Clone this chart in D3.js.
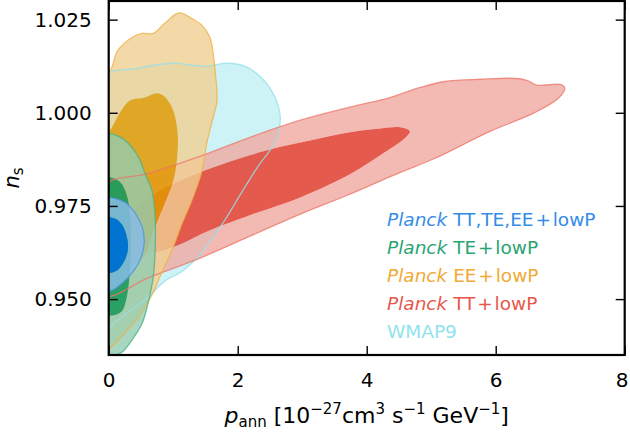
<!DOCTYPE html>
<html><head><meta charset="utf-8">
<script src="https://cdn.jsdelivr.net/npm/d3@7"></script>
<style>body{margin:0;background:#fff}svg{display:block}</style>
</head><body>
<svg id="c" width="630" height="436"></svg>
<script>
// ---- data (x: p_ann [1e-27 cm^3 s^-1 GeV^-1], y: n_s) ----
const xTicks = [0, 2, 4, 6, 8];
const yTicks = [0.950, 0.975, 1.000, 1.025];
const xDomain = [0, 8];
const yDomain = [0.935, 1.030];

const legendNames = ["TT,TE,EE+lowP", "TE+lowP", "EE+lowP", "TT+lowP", "WMAP9"];

// Planck TT+lowP
const ttOuter = [[-0.1,0.9800],[0.64,0.9838],[1.415,0.9883],[2.19,0.9934],[2.97,0.9980],[3.74,1.0015],[4.36,1.0041],[4.83,1.0068],[5.21,1.0084],[5.76,1.0090],[6.33,1.0092],[6.50,1.0086],[6.64,1.0074],[7.00,1.0076],[7.07,1.0066],[6.97,1.0039],[6.61,1.0001],[5.91,0.9950],[5.06,0.9878],[4.52,0.9840],[3.66,0.9776],[2.97,0.9728],[2.19,0.9669],[1.415,0.9610],[0.64,0.9559],[-0.1,0.9510]];
const ttInner = [[0.25,0.9707],[0.485,0.9752],[0.795,0.9792],[1.415,0.9840],[2.19,0.9886],[2.70,0.9910],[3.28,0.9932],[3.74,0.9948],[4.21,0.9958],[4.52,0.9961],[4.67,0.9950],[4.59,0.9932],[4.28,0.9894],[3.74,0.9835],[2.97,0.9773],[2.19,0.9725],[1.57,0.9685],[1.03,0.9642],[0.64,0.9626],[0.33,0.9658]];
// WMAP9
const wmapOuter = [[-0.135,1.0090],[0.45,1.0119],[0.98,1.0133],[1.49,1.0125],[1.85,1.0133],[2.11,1.0125],[2.38,1.0092],[2.58,1.0041],[2.66,0.9988],[2.62,0.9940],[2.50,0.9899],[2.35,0.9865],[2.08,0.9792],[1.83,0.9720],[1.62,0.9666],[1.38,0.9613],[1.14,0.9575],[0.87,0.9548],[0.61,0.9505],[0.41,0.9479],[0.14,0.9444],[-0.135,0.9406]];
// Planck EE+lowP
const eeOuter = [[-0.135,1.0103],[0.02,1.0114],[0.14,1.0167],[0.36,1.0202],[0.52,1.0213],[0.69,1.0213],[0.87,1.0240],[1.06,1.0267],[1.14,1.0267],[1.29,1.0253],[1.45,1.0234],[1.57,1.0202],[1.62,1.0159],[1.66,1.0095],[1.68,1.0033],[1.62,0.9988],[1.52,0.9918],[1.45,0.9846],[1.29,0.9765],[1.14,0.9704],[0.98,0.9631],[0.84,0.9578],[0.67,0.9511],[0.485,0.9457],[0.25,0.9409],[0.02,0.9369],[-0.135,0.9358]];
const eeInner = [[-0.135,0.9913],[0.05,0.9961],[0.175,1.0001],[0.33,1.0033],[0.56,1.0041],[0.72,1.0052],[0.84,1.0047],[0.98,1.0015],[1.06,0.9961],[1.07,0.9899],[1.01,0.9824],[0.90,0.9771],[0.76,0.9712],[0.64,0.9658],[0.56,0.9618],[0.25,0.9583],[-0.135,0.9578]];
// Planck TE+lowP
const teOuter = [[-0.135,0.9948],[0.02,0.9945],[0.21,0.9932],[0.36,0.9907],[0.485,0.9873],[0.56,0.9838],[0.67,0.9792],[0.72,0.9720],[0.72,0.9631],[0.69,0.9559],[0.61,0.9489],[0.52,0.9436],[0.36,0.9390],[0.21,0.9358],[0.05,0.9347],[-0.135,0.9342]];
const teInner = [[-0.135,0.9830],[0.02,0.9827],[0.175,0.9814],[0.28,0.9779],[0.33,0.9725],[0.345,0.9631],[0.31,0.9538],[0.28,0.9505],[0.22,0.9471],[0.14,0.9460],[0.02,0.9455],[-0.135,0.9455]];
// Planck TT,TE,EE+lowP
const allOuter = [[-0.135,0.9776],[0.02,0.9773],[0.25,0.9760],[0.41,0.9731],[0.52,0.9693],[0.55,0.9650],[0.485,0.9605],[0.36,0.9570],[0.21,0.9543],[0.05,0.9524],[-0.135,0.9519]];
const allInner = [[-0.135,0.9723],[0.02,0.9720],[0.14,0.9712],[0.25,0.9685],[0.30,0.9639],[0.25,0.9605],[0.14,0.9578],[0.02,0.9570],[-0.135,0.9567]];

// ---- layout ----
const svg = d3.select("#c");
const L = 108.7, R = 624.7, T = 1, B = 355;
const x = d3.scaleLinear().domain(xDomain).range([L, R]);
const y = d3.scaleLinear().domain(yDomain).range([B, T]);
const font = "'DejaVu Sans', sans-serif";

svg.append("defs").append("clipPath").attr("id", "clip")
  .append("rect").attr("x", L).attr("y", T).attr("width", R - L).attr("height", B - T);

const line = d3.line().x(d => x(d[0])).y(d => y(d[1])).curve(d3.curveCatmullRomClosed.alpha(0.5));

const series = [
  {key:"wmap", outer: wmapOuter, inner: null, fo:"#cdf3f6", ao:1, fi:null, ai:0, stroke:"#96e0ea", so:0.8, text:"#8fe3ee"},
  {key:"tt", outer: ttOuter, inner: ttInner, fo:"rgb(240,169,161)", ao:0.8, fi:"rgb(227,83,70)", ai:0.96, stroke:"#ec7468", so:0.75, text:"#e8574a"},
  {key:"ee", outer: eeOuter, inner: eeInner, fo:"rgb(240,208,146)", ao:0.8, fi:"rgb(227,152,0)", ai:0.85, stroke:"#efb043", so:0.75, text:"#f0aa35"},
  {key:"te", outer: teOuter, inner: teInner, fo:"rgb(145,205,178)", ao:0.8, fi:"rgb(25,155,95)", ai:0.92, stroke:"#4fb283", so:0.8, text:"#2aa473"},
  {key:"all", outer: allOuter, inner: allInner, fo:"rgb(135,188,230)", ao:0.85, fi:"rgb(0,115,215)", ai:0.96, stroke:"#4f95e0", so:0.8, text:"#348ce6"}
];

const plot = svg.append("g").attr("clip-path", "url(#clip)");
series.forEach(s => {
  plot.append("path")
    .attr("d", line(s.outer) + (s.inner ? line(s.inner) : ""))
    .attr("fill", s.fo).attr("fill-opacity", s.ao).attr("fill-rule", "evenodd");
  if (s.inner) {
    plot.append("path").attr("d", line(s.inner))
      .attr("fill", s.fi).attr("fill-opacity", s.ai);
  }
});
series.forEach(s => {
  plot.append("path").attr("d", line(s.outer))
    .attr("fill", "none").attr("stroke", s.stroke).attr("stroke-opacity", s.so).attr("stroke-width", 1.3);
});

// ---- axes ----
const fmtY = d3.format(".3f");
const axB = svg.append("g").attr("transform", `translate(0,${B})`)
  .call(d3.axisBottom(x).tickValues(xTicks).tickSize(-9).tickPadding(18).tickFormat(d3.format("d")));
const axL = svg.append("g").attr("transform", `translate(${L},0)`)
  .call(d3.axisLeft(y).tickValues(yTicks).tickSize(-9).tickPadding(17).tickFormat(fmtY));
const axT = svg.append("g").attr("transform", `translate(0,${T})`)
  .call(d3.axisTop(x).tickValues(xTicks).tickSize(-9).tickFormat(""));
const axR = svg.append("g").attr("transform", `translate(${R},0)`)
  .call(d3.axisRight(y).tickValues(yTicks).tickSize(-9).tickFormat(""));
[axB, axL, axT, axR].forEach(g => {
  g.select(".domain").remove();
  g.selectAll(".tick line").attr("stroke", "#000").attr("stroke-width", 1.4);
  g.selectAll(".tick text").attr("fill", "#000").style("font-family", font).style("font-size", "20px");
});
// keep the last x label inside the canvas
axB.selectAll(".tick text").filter(d => d === xDomain[1]).attr("dx", "-3");

svg.append("rect").attr("x", L).attr("y", T).attr("width", R - L).attr("height", B - T)
  .attr("fill", "none").attr("stroke", "#000").attr("stroke-width", 2.2);

// ---- axis labels ----
const xl = svg.append("text").attr("x", (L + R) / 2).attr("y", 423).attr("text-anchor", "middle")
  .style("font-family", font).style("font-size", "22px").attr("fill", "#000");
xl.append("tspan").attr("font-style", "italic").text("p");
xl.append("tspan").attr("dy", 4).style("font-size", "15px").text("ann");
xl.append("tspan").attr("dy", -4).text(" [10");
xl.append("tspan").attr("dy", -9).style("font-size", "15px").text("−27");
xl.append("tspan").attr("dy", 9).text("cm");
xl.append("tspan").attr("dy", -9).style("font-size", "15px").text("3");
xl.append("tspan").attr("dy", 9).text(" s");
xl.append("tspan").attr("dy", -9).style("font-size", "15px").text("−1");
xl.append("tspan").attr("dy", 9).text(" GeV");
xl.append("tspan").attr("dy", -9).style("font-size", "15px").text("−1");
xl.append("tspan").attr("dy", 9).text("]");

const yl = svg.append("text").attr("transform", `translate(19,${(T + B) / 2}) rotate(-90)`)
  .attr("text-anchor", "middle").style("font-family", font).style("font-size", "21px").attr("fill", "#000");
yl.append("tspan").attr("font-style", "italic").text("n");
yl.append("tspan").attr("dy", 4).style("font-size", "15px").text("s");

// ---- legend ----
const order = ["all", "te", "ee", "tt", "wmap"];
order.forEach((k, i) => {
  const s = series.find(d => d.key === k);
  const t = svg.append("text").attr("x", 387).attr("y", 226 + i * 28)
    .style("font-family", font).style("font-size", "18.5px").attr("fill", s.text);
  const name = legendNames[i];
  if (k !== "wmap") {
    t.append("tspan").attr("font-style", "italic").text("Planck");
    t.append("tspan").text(" " + name.replace("+", "\u200A+\u200A"));
  } else {
    t.append("tspan").text(name);
  }
});
</script>
</body></html>
